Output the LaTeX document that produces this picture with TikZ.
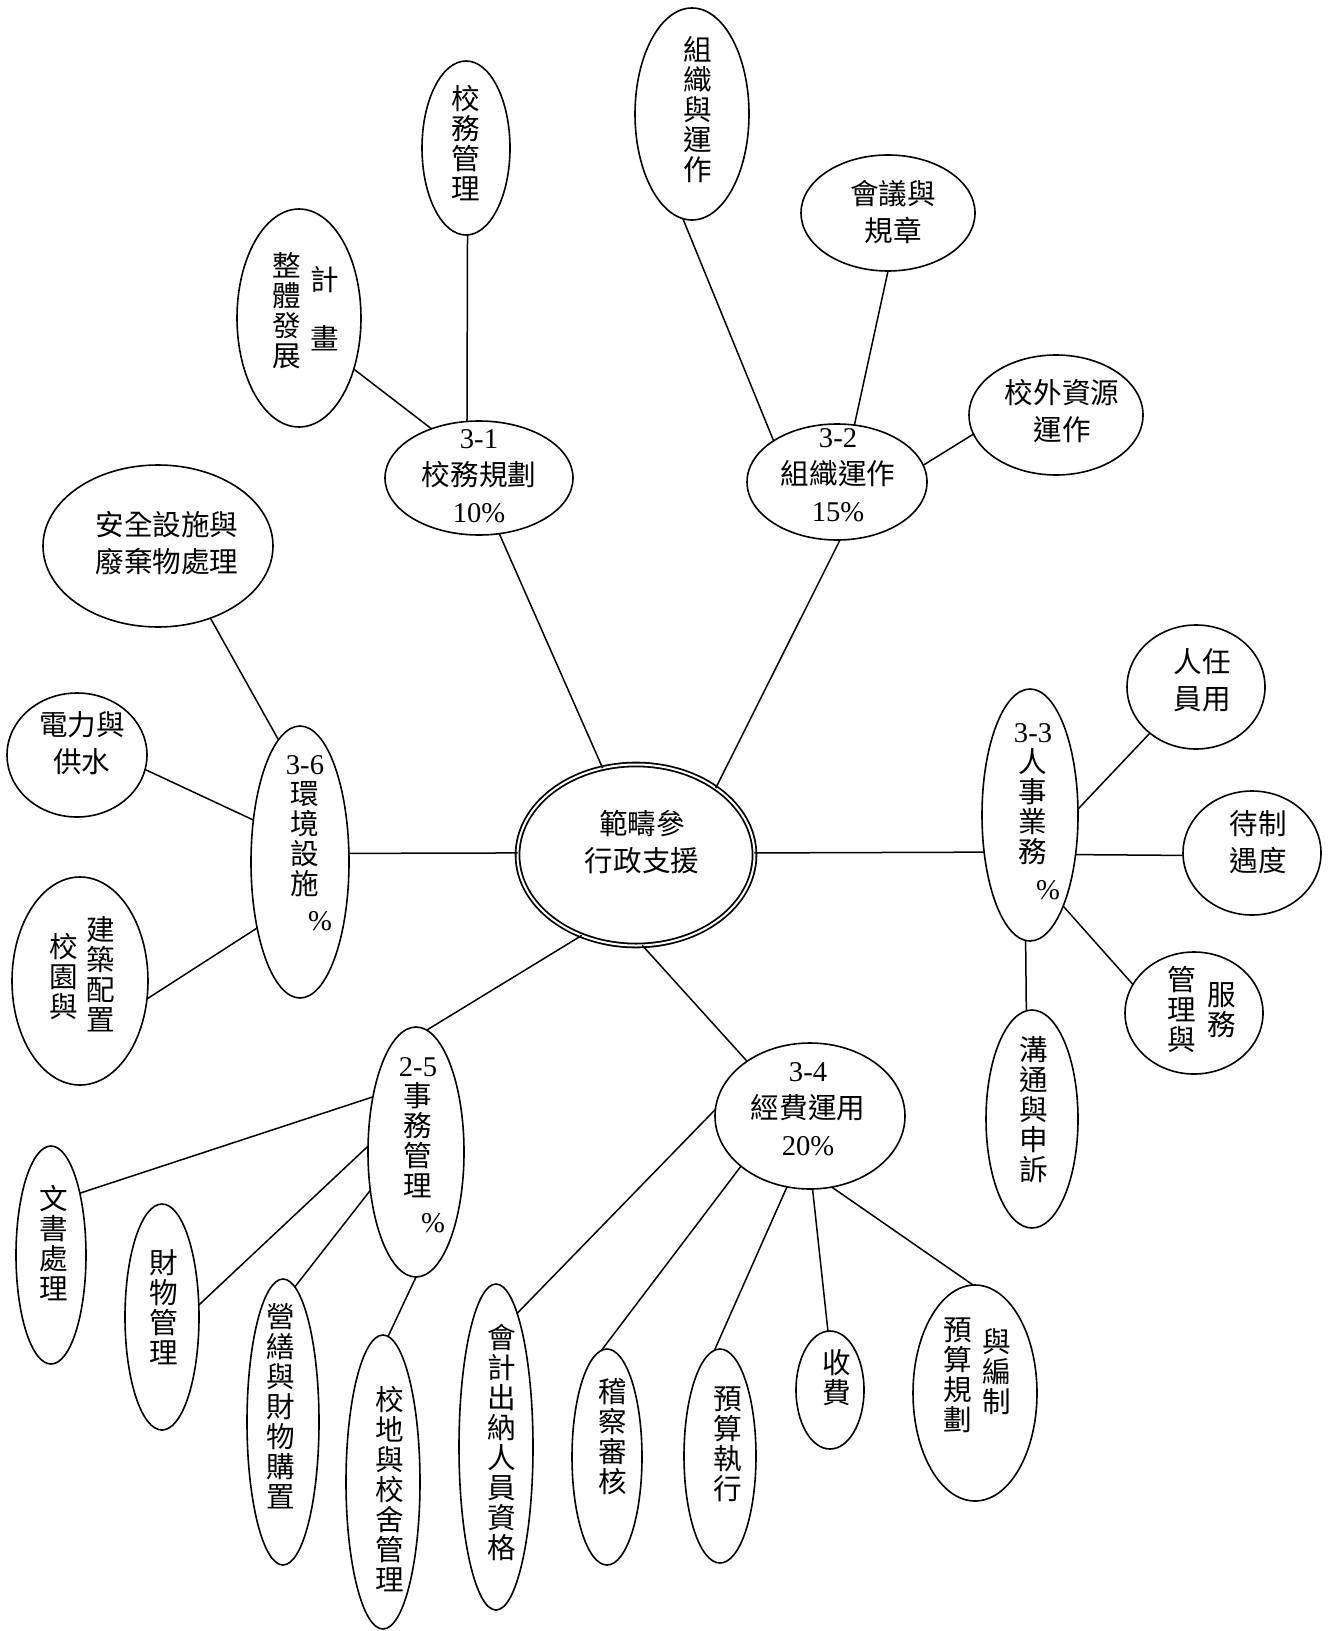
\documentclass[tikz,border=0pt]{standalone}
\usepackage{fontspec}
\setmainfont{Noto Sans CJK TC}
\newfontfamily\lat{Liberation Serif}
\usetikzlibrary{shapes.geometric}
% bubble: name, x, y, x-radius, y-radius (in drawing units)
\newcommand{\bubble}[5]{\node[bub, minimum width=#4pt, minimum height=#5pt] (#1) at (#2,#3) {};}
\begin{document}
\begin{tikzpicture}[x=0.5pt,y=-0.5pt,
  bub/.style={draw, ellipse, line width=0.8pt, inner sep=0pt, outer sep=0pt},
  hub/.style={draw, ellipse, double, double distance=1pt, line width=0.9pt, inner sep=0pt, outer sep=0pt},
  link/.style={line width=0.75pt},
  htxt/.style={align=center, inner sep=0pt, font=\fontsize{14.3pt}{18.5pt}\selectfont},
  vtxt/.style={align=center, inner sep=0pt, font=\fontsize{14.3pt}{15pt}\selectfont},
  pct/.style={inner sep=0pt, font=\fontsize{14.3pt}{15pt}\selectfont\lat}]
\useasboundingbox[fill=white] (0,0) rectangle (1332,1631);

% ---- ellipses ----
\node[hub, minimum width=118.5pt, minimum height=90.5pt] (c0) at (636,855) {};
\bubble{c31}{479}{478}{94}{57}
\bubble{c32}{837}{482}{90}{58}
\bubble{c33}{1030}{815}{48}{126}
\bubble{c34}{810}{1116}{95}{73}
\bubble{c25}{416}{1152}{48}{125}
\bubble{c36}{300}{862}{49}{136}

\bubble{n1}{466}{148}{44}{87}
\bubble{n2}{299}{318}{62}{109}
\bubble{n4}{692}{114}{57}{106}
\bubble{n5}{888}{213}{87}{58}
\bubble{n6}{1056}{415}{87}{60}
\bubble{n9}{158}{546}{115}{81}
\bubble{n10}{77}{755}{70}{62}
\bubble{n12}{80}{981}{68}{104}
\bubble{n14}{1196}{687}{69}{62}
\bubble{n15}{1252}{853}{69}{62}
\bubble{n16}{1194}{1013}{69}{61}
\bubble{n17}{1032}{1119}{46}{109}
\bubble{n20}{51}{1255}{35}{109}
\bubble{n21}{162}{1317}{37}{113}
\bubble{n22}{283}{1422}{36}{143}
\bubble{n23}{383}{1482}{37}{147}
\bubble{n24}{496}{1447}{37}{163}
\bubble{n25}{607}{1457}{35}{108}
\bubble{n26}{720}{1456}{36}{107}
\bubble{n27}{830}{1390}{34}{59}
\bubble{n28}{975}{1393}{62}{108}

% ---- connectors ----
\draw[link] (n1.271) -- (c31.102);
\draw[link] (n2.317) -- (c31.134);
\draw[link] (c31.290) -- (c0.111);
\draw[link] (n4.265) -- (c32.147);
\draw[link] (n5.270) -- (c32.73);
\draw[link] (n6.193) -- (c32.11);
\draw[link] (c32.273) -- (c0.40);
\draw[link] (n9.306) -- (c36.100);
\draw[link] (n10.348) -- (c36.138);
\draw[link] (n12.345) -- (c36.237);
\draw[link] (c36.10) -- (c0.179);
\draw[link] (c0.1) -- (c33.219);
\draw[link] (c33.7) -- (n14.225);
\draw[link] (c33.319) -- (n15.182);
\draw[link] (c33.290) -- (n16.155);
\draw[link] (c33.268) -- (n17.93);
\draw[link] (c0.236) -- (c25.85);
\draw[link] (c0.274) -- (c34.139);
\draw[link] (c25.128) -- (n20.65);
\draw[link] (c25.173) -- (n21.18);
\draw[link] (c25.220) -- (n22.85);
\draw[link] (c25.270) -- (n23.88);
\draw[link] (c34.176) -- (n24.81);
\draw[link] (c34.216) -- (n25.93);
\draw[link] (c34.252) -- (n26.93);
\draw[link] (c34.272) -- (n27.92);
\draw[link] (c34.287) -- (n28.91);

% ---- labels ----
\node[htxt] (c0-t) at (642,842) {範疇參\\行政支援};
\node[htxt] (c31-t) at (479,476) {{\lat 3-1}\\校務規劃\\{\lat 10\%}};
\node[htxt] (c32-t) at (838,475) {{\lat 3-2}\\組織運作\\{\lat 15\%}};
\node[htxt] (c34-t) at (808,1109) {{\lat 3-4}\\經費運用\\{\lat 20\%}};
\node[vtxt] (c33-t) at (1033,794) {{\lat 3-3}\\人\\事\\業\\務};
\node[pct] (c33-p) at (1048,890) {\%};
\node[vtxt] (c25-t) at (418,1128) {{\lat 2-5}\\事\\務\\管\\理};
\node[pct] (c25-p) at (433,1223) {\%};
\node[vtxt] (c36-t) at (305,826) {{\lat 3-6}\\環\\境\\設\\施};
\node[pct] (c36-p) at (320,921) {\%};

\node[vtxt] (n1-t) at (466,143) {校\\務\\管\\理};
\node[vtxt] (n2-a) at (287,311) {整\\體\\發\\展};
\node[vtxt] (n2-b) at (325,309) {計\\[14.5pt]畫};
\node[vtxt] (n4-t) at (698,110) {組\\織\\與\\運\\作};
\node[htxt] (n5-t) at (893,212) {會議與\\規章};
\node[htxt] (n6-t) at (1062,411) {校外資源\\運作};
\node[htxt] (n9-t) at (167,543) {安全設施與\\廢棄物處理};
\node[htxt] (n10-t) at (82,743) {電力與\\供水};
\node[vtxt] (n12-a) at (64,977) {校\\園\\與};
\node[vtxt] (n12-b) at (101,974) {建\\築\\配\\置};
\node[htxt] (n14-t) at (1202,680) {人任\\員用};
\node[htxt] (n15-t) at (1258,842) {待制\\遇度};
\node[vtxt] (n16-a) at (1182,1009) {管\\理\\與};
\node[vtxt] (n16-b) at (1222,1010) {服\\務};
\node[vtxt] (n17-t) at (1034,1110) {溝\\通\\與\\申\\訴};
\node[vtxt] (n20-t) at (54,1243) {文\\書\\處\\理};
\node[vtxt] (n21-t) at (164,1307) {財\\物\\管\\理};
\node[vtxt] (n22-t) at (281,1406) {營\\繕\\與\\財\\物\\購\\置};
\node[vtxt] (n23-t) at (390,1489) {校\\地\\與\\校\\舍\\管\\理};
\node[vtxt] (n24-t) at (502,1443) {會\\計\\出\\納\\人\\員\\資\\格};
\node[vtxt] (n25-t) at (613,1437) {稽\\察\\審\\核};
\node[vtxt] (n26-t) at (728,1444) {預\\算\\執\\行};
\node[vtxt] (n27-t) at (837,1378) {收\\費};
\node[vtxt] (n28-a) at (958,1375) {預\\算\\規\\劃};
\node[vtxt] (n28-b) at (997,1372) {與\\編\\制};
\end{tikzpicture}
\end{document}
